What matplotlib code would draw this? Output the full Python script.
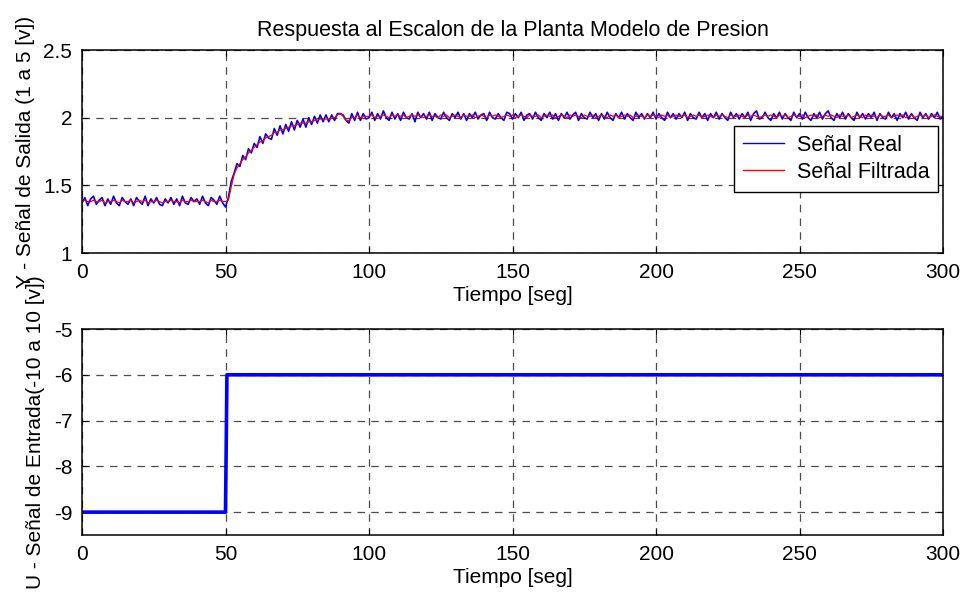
#Importing libraries
import matplotlib
matplotlib.use('Agg')
import matplotlib.pyplot as plt
import numpy as np

plt.rcParams['font.family'] = ['Liberation Sans', 'DejaVu Sans']
plt.rcParams['font.size'] = 15
plt.rcParams['axes.unicode_minus'] = False

# salida medida (1 muestra por segundo)
y_real = [
    1.37, 1.41, 1.35, 1.40, 1.42, 1.36, 1.39, 1.41, 1.35, 1.40,
    1.36, 1.42, 1.37, 1.35, 1.41, 1.38, 1.36, 1.40, 1.35, 1.41,
    1.38, 1.36, 1.42, 1.35, 1.40, 1.37, 1.41, 1.36, 1.35, 1.40,
    1.37, 1.41, 1.36, 1.40, 1.35, 1.42, 1.37, 1.36, 1.41, 1.38,
    1.40, 1.36, 1.42, 1.37, 1.35, 1.41, 1.39, 1.36, 1.42, 1.37,
    1.34, 1.41, 1.53, 1.59, 1.66, 1.64, 1.72, 1.69, 1.77, 1.74,
    1.81, 1.78, 1.86, 1.81, 1.88, 1.85, 1.84, 1.92, 1.87, 1.94,
    1.88, 1.95, 1.90, 1.97, 1.91, 1.98, 1.93, 1.99, 1.93, 2.00,
    1.95, 2.01, 1.96, 2.02, 1.97, 2.02, 1.97, 2.02, 1.98, 2.03,
    2.03, 2.02, 1.98, 1.96, 2.03, 1.98, 2.04, 1.98, 2.03, 1.99,
    2.00, 2.04, 1.98, 2.03, 1.99, 2.05, 2.00, 1.98, 2.04, 1.99,
    2.03, 1.98, 2.04, 2.00, 1.99, 2.03, 1.97, 2.04, 2.00, 2.03,
    1.99, 2.04, 1.98, 2.03, 2.00, 1.99, 2.04, 2.00, 1.98, 2.03,
    2.00, 2.04, 1.99, 2.03, 1.98, 2.03, 2.00, 2.04, 1.99, 2.02,
    2.03, 1.98, 2.04, 2.00, 1.99, 2.03, 2.00, 1.98, 2.04, 2.03,
    1.99, 2.03, 2.00, 2.04, 1.98, 2.02, 2.03, 1.99, 2.04, 2.00,
    1.98, 2.03, 2.00, 2.04, 1.99, 2.03, 1.98, 2.03, 2.00, 2.04,
    1.99, 2.02, 2.04, 1.98, 2.03, 2.00, 1.99, 2.04, 2.00, 2.03,
    1.98, 2.03, 1.99, 2.04, 2.00, 1.98, 2.03, 2.00, 2.04, 1.99,
    2.03, 2.00, 1.98, 2.04, 2.00, 2.03, 1.99, 2.03, 2.00, 2.04,
    1.99, 2.03, 2.00, 1.98, 2.04, 2.00, 2.03, 1.99, 2.03, 2.00,
    2.04, 1.98, 2.03, 2.00, 1.99, 2.04, 2.00, 2.03, 1.98, 2.03,
    2.00, 2.04, 1.99, 2.03, 2.00, 1.98, 2.04, 2.00, 2.03, 1.99,
    2.03, 2.00, 2.04, 1.98, 2.03, 2.05, 1.99, 2.00, 2.04, 2.00,
    1.98, 2.03, 2.00, 2.04, 1.99, 2.03, 2.00, 1.98, 2.04, 2.00,
    2.03, 1.99, 2.04, 2.00, 1.98, 2.03, 2.00, 2.04, 1.99, 2.03,
    2.05, 2.00, 1.98, 2.03, 2.00, 2.04, 1.99, 2.03, 2.00, 1.98,
    2.04, 2.00, 2.03, 1.99, 2.03, 2.00, 2.04, 1.98, 2.03, 2.00,
    1.99, 2.04, 2.00, 2.03, 1.98, 2.03, 2.00, 2.04, 1.99, 2.03,
    2.00, 1.98, 2.04, 2.00, 2.03, 1.99, 2.03, 2.00, 2.04, 1.99,
    2.01,
]

# salida filtrada
y_filt = [
    1.38, 1.39, 1.38, 1.38, 1.39, 1.38, 1.38, 1.39, 1.37, 1.38,
    1.38, 1.39, 1.38, 1.37, 1.39, 1.38, 1.38, 1.39, 1.37, 1.38,
    1.39, 1.38, 1.39, 1.37, 1.38, 1.38, 1.39, 1.38, 1.37, 1.38,
    1.38, 1.39, 1.38, 1.38, 1.37, 1.39, 1.38, 1.38, 1.39, 1.38,
    1.38, 1.38, 1.39, 1.38, 1.37, 1.39, 1.38, 1.38, 1.39, 1.38,
    1.38, 1.39, 1.49, 1.58, 1.63, 1.66, 1.69, 1.71, 1.74, 1.76,
    1.78, 1.80, 1.82, 1.83, 1.85, 1.86, 1.87, 1.89, 1.89, 1.91,
    1.91, 1.92, 1.93, 1.94, 1.94, 1.95, 1.96, 1.96, 1.96, 1.97,
    1.97, 1.98, 1.98, 1.99, 1.99, 1.99, 1.99, 2.00, 2.00, 2.02,
    2.03, 2.01, 1.98, 1.98, 2.00, 2.00, 2.02, 2.00, 2.01, 2.01,
    2.01, 2.02, 2.00, 2.01, 2.01, 2.02, 2.01, 2.00, 2.02, 2.01,
    2.02, 2.01, 2.02, 2.00, 2.01, 2.02, 2.01, 2.02, 2.01, 2.00,
    2.01, 2.02, 2.01, 2.01, 2.00, 2.02, 2.01, 2.02, 2.00, 2.01,
    2.02, 2.01, 2.00, 2.02, 2.01, 2.01, 2.02, 2.00, 2.01, 2.02,
    2.01, 2.00, 2.02, 2.01, 2.02, 2.01, 2.00, 2.01, 2.02, 2.01,
    2.02, 2.00, 2.01, 2.02, 2.01, 2.00, 2.02, 2.01, 2.01, 2.02,
    2.00, 2.01, 2.02, 2.01, 2.02, 2.00, 2.01, 2.02, 2.01, 2.00,
    2.02, 2.01, 2.02, 2.01, 2.00, 2.02, 2.01, 2.01, 2.02, 2.00,
    2.01, 2.02, 2.01, 2.00, 2.02, 2.01, 2.02, 2.00, 2.01, 2.02,
    2.01, 2.02, 2.00, 2.01, 2.02, 2.01, 2.00, 2.02, 2.01, 2.02,
    2.01, 2.00, 2.02, 2.01, 2.02, 2.00, 2.01, 2.02, 2.01, 2.01,
    2.02, 2.00, 2.01, 2.02, 2.01, 2.02, 2.00, 2.01, 2.02, 2.01,
    2.00, 2.02, 2.01, 2.02, 2.01, 2.00, 2.02, 2.01, 2.01, 2.02,
    2.01, 2.00, 2.02, 2.01, 2.02, 2.01, 2.00, 2.01, 2.02, 2.01,
    2.02, 2.01, 2.00, 2.02, 2.01, 2.02, 2.00, 2.01, 2.02, 2.01,
    2.01, 2.02, 2.00, 2.01, 2.02, 2.01, 2.02, 2.00, 2.01, 2.02,
    2.01, 2.02, 2.01, 2.00, 2.02, 2.01, 2.01, 2.02, 2.00, 2.01,
    2.02, 2.01, 2.00, 2.02, 2.01, 2.02, 2.01, 2.00, 2.02, 2.01,
    2.01, 2.02, 2.00, 2.01, 2.02, 2.01, 2.02, 2.00, 2.01, 2.02,
    2.00, 2.01, 2.02, 2.01, 2.02, 2.00, 2.01, 2.02, 2.01, 2.01,
    2.01,
]

# entrada escalon
t_u = [0, 50, 50.5, 300]
u = [-9, -9, -6, -6]

t_real = np.arange(len(y_real))
t_filt = np.arange(len(y_filt))

x_ticks = [0, 50, 100, 150, 200, 250, 300]


def styleAxis(ax):
    ax.grid(True, color='0.3', linestyle=(0, (6, 5)), linewidth=0.9)
    ax.tick_params(direction='in', top=True, right=True, pad=7, length=4)
    for s in ax.spines.values():
        s.set_linewidth(1.1)
    ax.set_xlim(0, 300)
    ax.set_xticks(x_ticks)


fig = plt.figure(figsize=(9.67, 5.99), dpi=100)

ax1 = fig.add_axes([0.0848, 0.5776, 0.8904, 0.3389])
ax1.plot(t_real, y_real, color='#0000ff', linewidth=1.2, label='Señal Real')
ax1.plot(t_filt, y_filt, color='#ff0000', linewidth=0.9, label='Señal Filtrada')
styleAxis(ax1)
ax1.set_ylim(1, 2.5)
ax1.set_yticks([1, 1.5, 2, 2.5])
ax1.set_yticklabels(['1', '1.5', '2', '2.5'])
ax1.set_title('Respuesta al Escalon de la Planta Modelo de Presion', fontsize=15.5, pad=10)
ax1.set_xlabel('Tiempo [seg]', labelpad=3)
ax1.set_ylabel('Y - Señal de Salida (1 a 5 [v])', labelpad=6)
leg = ax1.legend(loc='upper right', bbox_to_anchor=(0.994, 0.626), fancybox=False,
                 framealpha=1, edgecolor='black', handlelength=1.9, borderpad=0.4,
                 labelspacing=0.3, handletextpad=0.6, borderaxespad=0, fontsize=15.5)
leg.get_frame().set_linewidth(1.0)
for ln in leg.get_lines():
    ln.set_linewidth(1.0)

ax2 = fig.add_axes([0.0848, 0.1068, 0.8904, 0.3439])
ax2.plot(t_u, u, color='#0000ff', linewidth=2.6)
styleAxis(ax2)
ax2.set_ylim(-9.5, -5)
ax2.set_yticks([-9, -8, -7, -6, -5])
ax2.set_xlabel('Tiempo [seg]', labelpad=3)
ax2.set_ylabel('U - Señal de Entrada(-10 a 10 [v])', labelpad=6)

fig.savefig('out.png', dpi=100)
